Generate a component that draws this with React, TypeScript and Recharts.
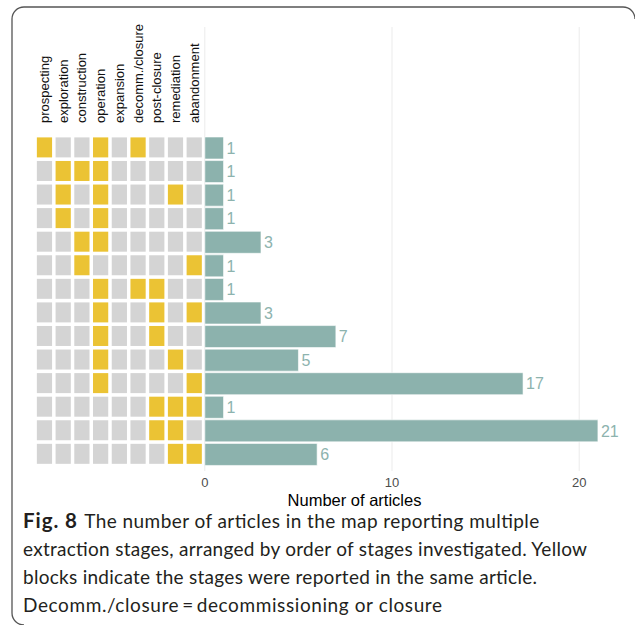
import { ComposedChart, Bar, XAxis, YAxis, CartesianGrid, LabelList, Label } from 'recharts';

const stages = [
  'prospecting',
  'exploration',
  'construction',
  'operation',
  'expansion',
  'decomm./closure',
  'post-closure',
  'remediation',
  'abandonment',
];

// number of articles per combination, top row first
const counts = [1, 1, 1, 1, 3, 1, 1, 3, 7, 5, 17, 1, 21, 6];

// stage indexes reported together in each row
const combos = [
  [0, 3, 5],
  [1, 2, 3],
  [1, 3, 7],
  [1, 3],
  [2, 3],
  [2, 8],
  [3, 5, 6],
  [3, 6, 8],
  [3, 6],
  [3, 7],
  [3, 8],
  [6, 7, 8],
  [6, 7],
  [7, 8],
];

const xTicks = [0, 10, 20];
const X_MIN = -9.5;
const X_MAX = 22.5;

const YELLOW = '#EBC334';
const GREY = '#D4D4D4';
const TEAL = '#8CB2AD';

const rows = counts.map((c, i) => {
  const row: any = { row: `r${i + 1}`, count: c, picked: combos[i] };
  stages.forEach((_, k) => {
    row[`s${k}`] = -1;
  });
  return row;
});

const Tile = (props: any) => {
  const { x, y, width, height, payload, stage } = props;
  const x0 = Math.min(x, x + width);
  const w = Math.abs(width);
  const on = payload.picked.includes(stage);
  return <rect x={x0 + 0.5} y={y + 0.4} width={w - 3.5} height={height - 2} fill={on ? YELLOW : GREY} />;
};

// column header: only drawn once, above the first row of tiles
const stageHeader = (k: number) => (props: any) => {
  const { x, width, index } = props;
  if (index !== 0) return null;
  const x0 = Math.min(x, x + width);
  const cx = x0 + 0.5 + (Math.abs(width) - 3.5) / 2;
  return (
    <text
      key={`h${k}`}
      x={cx}
      y={123}
      transform={`rotate(-90, ${cx}, 123)`}
      dy="0.35em"
      fontSize={13}
      fill="#111"
      textAnchor="start"
    >
      {stages[k]}
    </text>
  );
};

// abandonment sits next to zero, so stack from the last stage outward
const stageOrder = stages.map((_, k) => stages.length - 1 - k);

// only 0, 10, 20 get a grid line
const gridX = ({ offset }: any) =>
  xTicks.map((v) => offset.left + ((v - X_MIN) / (X_MAX - X_MIN)) * offset.width);

export default function App() {
  return (
    <div style={{ position: 'absolute', left: 0, top: 0, width: 635, height: 625, background: '#fff' }}>
      <div style={{ position: 'absolute', left: 0, top: 0, fontFamily: '"Liberation Sans", Arial, sans-serif' }}>
        <ComposedChart
          width={635}
          height={625}
          data={rows}
          layout="vertical"
          stackOffset="sign"
          barCategoryGap={1}
          margin={{ top: 27, right: 9, bottom: 119, left: 27 }}
        >
          <CartesianGrid horizontal={false} stroke="#EBEBEB" strokeWidth={1} verticalCoordinatesGenerator={gridX} />
          <XAxis
            type="number"
            domain={[X_MIN, X_MAX]}
            ticks={xTicks}
            interval={0}
            allowDataOverflow
            axisLine={false}
            tickLine={false}
            tickSize={0}
            tickMargin={7}
            height={35}
            tick={{ fill: '#4D4D4D', fontSize: 13 }}
          >
            <Label value="Number of articles" position="insideBottom" offset={0} dx={28} fill="#000" fontSize={16.5} />
          </XAxis>
          <YAxis type="category" dataKey="row" hide padding={{ top: 109, bottom: 5 }} />
          {stageOrder.map((k) => (
            <Bar
              key={k}
              dataKey={`s${k}`}
              stackId="a"
              isAnimationActive={false}
              shape={(p: any) => <Tile {...p} stage={k} />}
            >
              <LabelList dataKey={`s${k}`} content={stageHeader(k)} />
            </Bar>
          ))}
          <Bar dataKey="count" stackId="a" fill={TEAL} stroke="#fff" strokeWidth={0.6} isAnimationActive={false}>
            <LabelList dataKey="count" position="right" offset={3} fill="#8DB3AE" fontSize={16} />
          </Bar>
        </ComposedChart>
      </div>
      <svg width={635} height={625} style={{ position: 'absolute', left: 0, top: 0, pointerEvents: 'none' }}>
        <path
          d="M 24 625 A 12 12 0 0 1 12 613 L 12 19 A 12 12 0 0 1 24 7 L 623 7 A 12 12 0 0 1 635 19"
          fill="none"
          stroke="#555"
          strokeWidth={1.3}
        />
        <g fontFamily="Lato, 'Open Sans', sans-serif" fontSize={19} fill="#231F20">
          <text x={23} y={528} fontWeight="bold" fontSize={20.5} textLength={54}>Fig. 8</text>
          <text x={84.3} y={528} textLength={455}>The number of articles in the map reporting multiple</text>
          <text x={23} y={556} textLength={564}>extraction stages, arranged by order of stages investigated. Yellow</text>
          <text x={23} y={584} textLength={514}>blocks indicate the stages were reported in the same article.</text>
          <text x={23} y={612} textLength={419}>Decomm./closure{'\u2009'}={'\u2009'}decommissioning or closure</text>
        </g>
      </svg>
    </div>
  );
}
